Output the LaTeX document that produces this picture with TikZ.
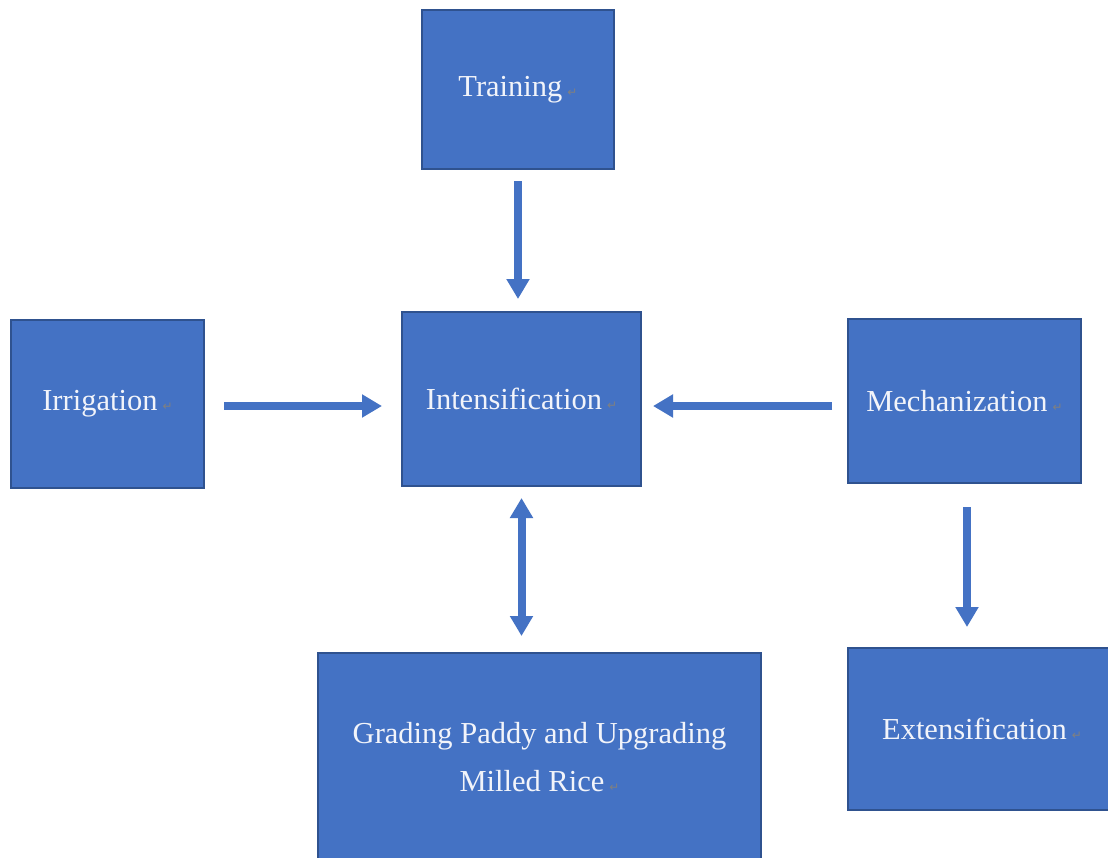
\documentclass[tikz,border=0pt]{standalone}
\usepackage{fontspec}
\setmainfont{Liberation Serif}
\newfontfamily\dejavu{DejaVu Sans}
\usetikzlibrary{arrows.meta}
\definecolor{boxfill}{HTML}{4472C4}
\definecolor{boxline}{HTML}{2F528F}
\definecolor{arrowcol}{HTML}{4472C4}
\definecolor{txt}{HTML}{F2F4FA}
\newcommand{\retmark}{\,{\dejavu\fontsize{12}{12}\selectfont\color{gray}↵}}
\begin{document}
\begin{tikzpicture}[x=1pt,y=-1pt,
  box/.style={draw=boxline,line width=2pt,fill=boxfill,text=txt,
    font=\fontsize{30.5}{48}\selectfont,align=center,inner sep=0pt},
  arr/.style={draw=arrowcol,line width=8pt,-{Triangle[width=22pt,length=20pt]}},
  darr/.style={draw=arrowcol,line width=8pt,{Triangle[width=22pt,length=20pt]}-{Triangle[width=22pt,length=20pt]}}]
\clip (0,0) rectangle (1108,857);
\fill[white] (0,0) rectangle (1108,857);
\node[box,minimum width=192pt,minimum height=159pt] (train) at (518,89.5) {Training\retmark};
\node[box,minimum width=239pt,minimum height=174pt] (int) at (521.5,399) {Intensification\retmark};
\node[box,minimum width=193pt,minimum height=168pt] (irr) at (107.5,404) {Irrigation\retmark};
\node[box,minimum width=233pt,minimum height=164pt] (mech) at (964.5,401) {Mechanization\retmark};
\node[box,minimum width=443pt,minimum height=208pt] (grad) at (539.5,757) {Grading Paddy and Upgrading\\Milled Rice\retmark};
\node[box,minimum width=268pt,minimum height=162pt] (ext) at (982,729) {Extensification\retmark};
\draw[arr,shorten <=11pt,shorten >=12pt] (train.south) -- (train.south |- int.north);
\draw[arr,shorten <=19pt,shorten >=19pt] ([yshift=-2pt]irr.east) -- ([yshift=-2pt]irr.east -| int.west);
\draw[arr,shorten <=15pt,shorten >=11pt] ([yshift=-5pt]mech.west) -- ([yshift=-5pt]mech.west -| int.east);
\draw[darr,shorten <=11pt,shorten >=16pt] (int.south) -- (int.south |- grad.north);
\draw[arr,shorten <=23pt,shorten >=20pt] ([xshift=2.5pt]mech.south) -- ([xshift=2.5pt]mech.south |- ext.north);
\end{tikzpicture}
\end{document}
